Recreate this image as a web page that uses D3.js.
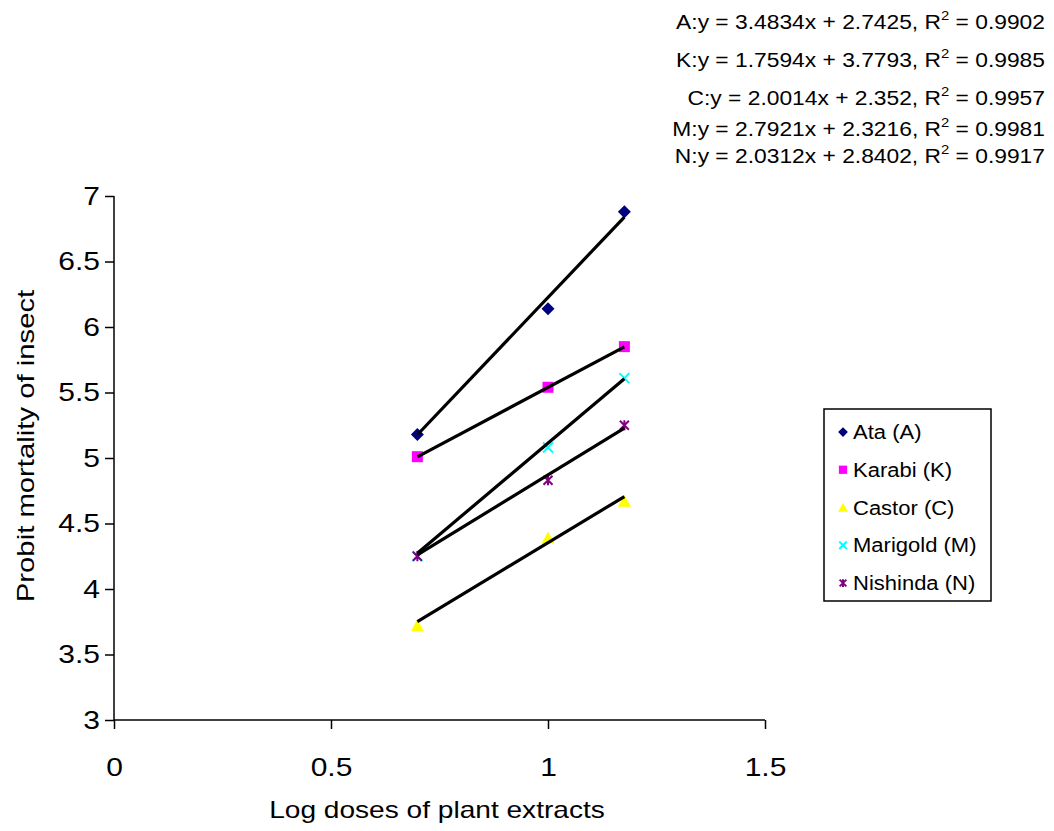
<!DOCTYPE html>
<html>
<head>
<meta charset="utf-8">
<script src="https://cdn.jsdelivr.net/npm/d3@7"></script>
<style>
  body { margin: 0; background: #fff; }
  text { font-family: Arial, "Liberation Sans", sans-serif; fill: #000; }
</style>
</head>
<body>
<div id="chart"></div>
<script>
// data
var doses = [0.699, 1.0, 1.176];
var seriesNames = ["Ata (A)", "Karabi (K)", "Castor (C)", "Marigold (M)", "Nishinda (N)"];
var seriesKeys = ["A", "K", "C", "M", "N"];
var ataVals = [5.18, 6.14, 6.88];
var karabiVals = [5.01, 5.54, 5.85];
var castorVals = [3.72, 4.39, 4.67];
var marigoldVals = [4.25, 5.08, 5.61];
var nishindaVals = [4.25, 4.83, 5.25];
var slopes = [3.4834, 1.7594, 2.0014, 2.7921, 2.0312];
var intercepts = [2.7425, 3.7793, 2.352, 2.3216, 2.8402];
var rSquared = ["0.9902", "0.9985", "0.9957", "0.9981", "0.9917"];
var xTicks = [0, 0.5, 1, 1.5];
var yTicks = [3, 3.5, 4, 4.5, 5, 5.5, 6, 6.5, 7];

var allVals = [ataVals, karabiVals, castorVals, marigoldVals, nishindaVals];
var colors = ["#000080", "#FF00FF", "#FFFF00", "#00FFFF", "#800080"];
var shapes = ["diamond", "square", "triangle", "x", "star"];

var w = 1054, h = 831;
var margin = {top: 196, right: 289, bottom: 111, left: 114};
var width = w - margin.left - margin.right,
    height = h - margin.top - margin.bottom;

var svg = d3.select("#chart").append("svg")
    .attr("width", w)
    .attr("height", h);

// the original text is a bit wider than Arial, stretch it horizontally
function stretch(sel, k) {
    sel.each(function(){
        var len = this.getComputedTextLength();
        d3.select(this).attr("textLength", len * k).attr("lengthAdjust", "spacingAndGlyphs");
    });
}

var g = svg.append("g")
    .attr("transform", "translate(" + margin.left + "," + margin.top + ")");

var x = d3.scaleLinear().domain([0, 1.5]).range([0, width]);
var y = d3.scaleLinear().domain([3, 7]).range([height, 0]);

// axes
var xAxis = d3.axisBottom(x).tickValues(xTicks).tickSize(9).tickPadding(29)
    .tickFormat(function(d){ return d; });
var yAxis = d3.axisLeft(y).tickValues(yTicks).tickSize(9).tickPadding(5)
    .tickFormat(function(d){ return d; });

var gx = g.append("g").attr("transform", "translate(0," + height + ")").call(xAxis);
var gy = g.append("g").call(yAxis);
[gx, gy].forEach(function(a){
    a.select(".domain").attr("stroke", "#000").attr("stroke-width", 1.5);
    a.selectAll(".tick line").attr("stroke", "#000").attr("stroke-width", 1.5);
    a.selectAll(".tick text").style("font-size", "25px")
        .style("font-family", "Arial, 'Liberation Sans', sans-serif").attr("fill", "#000")
        .call(stretch, 1.2);
});
gx.select(".domain").attr("d", "M0,0H" + width);
gy.select(".domain").attr("d", "M0,0V" + height);

// axis titles
svg.append("text")
    .attr("x", 437).attr("y", 818)
    .attr("text-anchor", "middle")
    .style("font-size", "24px")
    .text("Log doses of plant extracts")
    .call(stretch, 1.17);

svg.append("text")
    .attr("transform", "translate(34,446) rotate(-90)")
    .attr("text-anchor", "middle")
    .style("font-size", "24px")
    .text("Probit mortality of insect")
    .call(stretch, 1.22);

// marker drawing
function drawMarker(sel, shape, color, cx, cy, s) {
    s = s || 1;
    if (shape === "diamond") {
        var d = 6.5 * s;
        sel.append("path")
            .attr("d", "M" + cx + "," + (cy - d) + "L" + (cx + d) + "," + cy + "L" + cx + "," + (cy + d) + "L" + (cx - d) + "," + cy + "Z")
            .attr("fill", color);
    } else if (shape === "square") {
        sel.append("rect").attr("x", cx - 5.5 * s).attr("y", cy - 5.5 * s)
            .attr("width", 11 * s).attr("height", 11 * s).attr("fill", color);
    } else if (shape === "triangle") {
        var r = 6.5 * s;
        sel.append("path")
            .attr("d", "M" + cx + "," + (cy - r) + "L" + (cx + r) + "," + (cy + r * 0.85) + "L" + (cx - r) + "," + (cy + r * 0.85) + "Z")
            .attr("fill", color);
    } else if (shape === "x") {
        var k = 5 * s;
        sel.append("path")
            .attr("d", "M" + (cx - k) + "," + (cy - k) + "L" + (cx + k) + "," + (cy + k) +
                       "M" + (cx - k) + "," + (cy + k) + "L" + (cx + k) + "," + (cy - k))
            .attr("stroke", color).attr("stroke-width", 2).attr("fill", "none");
    } else if (shape === "star") {
        var k2 = 4.5 * s;
        sel.append("path")
            .attr("d", "M" + (cx - k2) + "," + (cy - k2) + "L" + (cx + k2) + "," + (cy + k2) +
                       "M" + (cx - k2) + "," + (cy + k2) + "L" + (cx + k2) + "," + (cy - k2) +
                       "M" + cx + "," + (cy - k2 - 0.5) + "L" + cx + "," + (cy + k2 + 0.5))
            .attr("stroke", color).attr("stroke-width", 2).attr("fill", "none");
    }
}

// points
for (var i = 0; i < allVals.length; i++) {
    var vals = allVals[i];
    for (var j = 0; j < doses.length; j++) {
        drawMarker(g, shapes[i], colors[i], x(doses[j]), y(vals[j]), 1);
    }
}

// trendlines
var trend = d3.line()
    .x(function(d){ return x(d[0]); })
    .y(function(d){ return y(d[1]); });
for (var t = 0; t < slopes.length; t++) {
    var x0 = d3.min(doses), x1 = d3.max(doses);
    var pts = [[x0, slopes[t] * x0 + intercepts[t]], [x1, slopes[t] * x1 + intercepts[t]]];
    g.append("path").datum(pts)
        .attr("d", trend)
        .attr("stroke", "#000").attr("stroke-width", 3.2).attr("fill", "none");
}

// equation labels
var eqY = [29, 67, 105, 136, 163];
for (var e = 0; e < seriesKeys.length; e++) {
    var txt = svg.append("text")
        .attr("x", 1045).attr("y", eqY[e])
        .attr("text-anchor", "end")
        .style("font-size", "20px");
    txt.append("tspan").text(seriesKeys[e] + ":y = " + slopes[e] + "x + " + intercepts[e] + ", R");
    txt.append("tspan").attr("dy", -9).style("font-size", "13px").text("2");
    txt.append("tspan").attr("dy", 9).text(" = " + rSquared[e]);
    txt.call(stretch, 1.14);
}

// legend
var legend = svg.append("g");
legend.append("rect")
    .attr("x", 824).attr("y", 409)
    .attr("width", 167).attr("height", 192)
    .attr("fill", "#fff").attr("stroke", "#000").attr("stroke-width", 1.5);
var legY = d3.scalePoint().domain(seriesNames).range([432, 583]);
seriesNames.forEach(function(name, i){
    drawMarker(legend, shapes[i], colors[i], 843, legY(name), 0.75);
    legend.append("text")
        .attr("x", 853).attr("y", legY(name) + 7)
        .style("font-size", "20px")
        .text(name)
        .call(stretch, 1.1);
});
</script>
</body>
</html>
